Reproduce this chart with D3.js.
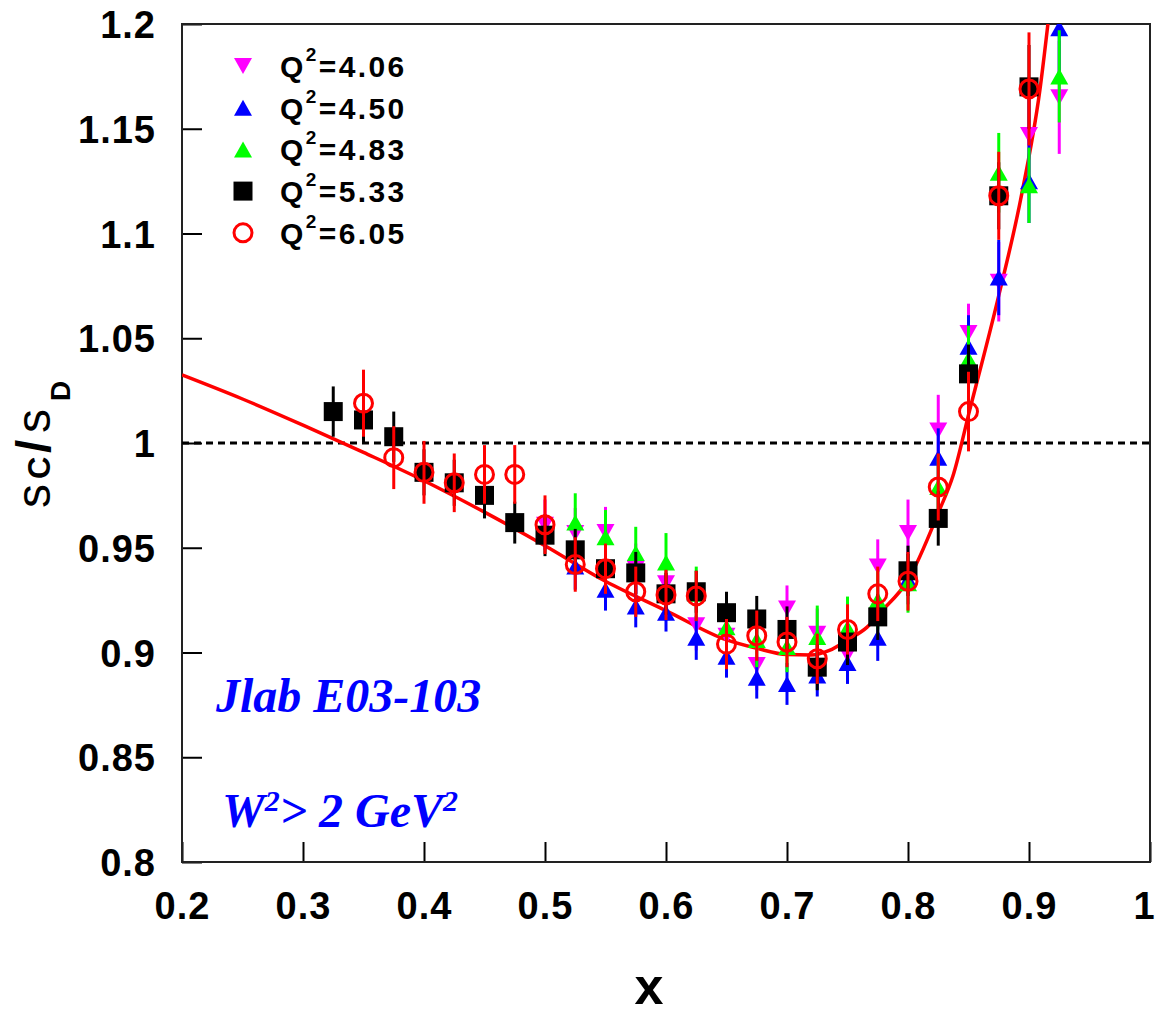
<!DOCTYPE html>
<html><head><meta charset="utf-8">
<script src="https://cdn.jsdelivr.net/npm/d3@7"></script>
<style>body{margin:0;background:#fff}</style>
</head><body>
<svg id="c" width="1157" height="1014"></svg>
<script>
// ---------------- data ----------------
const xTicks = [0.2, 0.3, 0.4, 0.5, 0.6, 0.7, 0.8, 0.9, 1.0];
const xTickLabels = ["0.2", "0.3", "0.4", "0.5", "0.6", "0.7", "0.8", "0.9", "1"];
const yTicks = [0.8, 0.85, 0.9, 0.95, 1.0, 1.05, 1.1, 1.15, 1.2];
const yTickLabels = ["0.8", "0.85", "0.9", "0.95", "1", "1.05", "1.1", "1.15", "1.2"];

const legendQ2 = ["4.06", "4.50", "4.83", "5.33", "6.05"];

// Q2 = 4.06 (magenta, down triangles)
const x406 = [0.5, 0.525, 0.55, 0.575, 0.6, 0.625, 0.65, 0.675, 0.7, 0.725, 0.75, 0.775, 0.8, 0.825, 0.85, 0.875, 0.9, 0.925];
const y406 = [0.961, 0.957, 0.9575, 0.940, 0.933, 0.913, 0.908, 0.894, 0.921, 0.909, 0.899, 0.941, 0.957, 1.006, 1.0525, 1.077, 1.147, 1.165];
const e406 = [0.012, 0.012, 0.012, 0.012, 0.012, 0.012, 0.012, 0.012, 0.011, 0.012, 0.012, 0.013, 0.016, 0.017, 0.014, 0.019, 0.022, 0.027];

// Q2 = 4.50 (blue, up triangles)
const x450 = [0.525, 0.55, 0.575, 0.6, 0.625, 0.65, 0.675, 0.7, 0.725, 0.75, 0.775, 0.8, 0.825, 0.85, 0.875, 0.9, 0.925];
const y450 = [0.941, 0.930, 0.922, 0.919, 0.907, 0.898, 0.888, 0.885, 0.889, 0.895, 0.907, 0.935, 0.993, 1.046, 1.079, 1.125, 1.198];
const e450 = [0.011, 0.010, 0.010, 0.009, 0.0105, 0.010, 0.010, 0.010, 0.010, 0.010, 0.011, 0.012, 0.014, 0.015, 0.018, 0.020, 0.025];

// Q2 = 4.83 (green, up triangles)
const x483 = [0.525, 0.55, 0.575, 0.6, 0.625, 0.65, 0.675, 0.7, 0.725, 0.75, 0.775, 0.8, 0.825, 0.85, 0.875, 0.9, 0.925];
const y483 = [0.962, 0.955, 0.9475, 0.943, 0.928, 0.912, 0.906, 0.9026, 0.9074, 0.9117, 0.925, 0.933, 0.979, 1.040, 1.129, 1.123, 1.175];
const e483 = [0.014, 0.013, 0.0125, 0.014, 0.013, 0.013, 0.013, 0.012, 0.015, 0.015, 0.014, 0.014, 0.015, 0.016, 0.019, 0.018, 0.022];

// Q2 = 5.33 (black squares)
const x533 = [0.325, 0.35, 0.375, 0.4, 0.425, 0.45, 0.475, 0.5, 0.525, 0.55, 0.575, 0.6, 0.625, 0.65, 0.675, 0.7, 0.725, 0.75, 0.775, 0.8, 0.825, 0.85, 0.875, 0.9];
const y533 = [1.015, 1.011, 1.003, 0.986, 0.981, 0.975, 0.962, 0.956, 0.949, 0.940, 0.938, 0.928, 0.929, 0.919, 0.916, 0.911, 0.893, 0.905, 0.917, 0.939, 0.964, 1.033, 1.118, 1.170];
const e533 = [0.012, 0.011, 0.012, 0.011, 0.011, 0.011, 0.010, 0.010, 0.010, 0.010, 0.010, 0.010, 0.010, 0.010, 0.011, 0.011, 0.011, 0.011, 0.011, 0.012, 0.013, 0.014, 0.016, 0.020];

// Q2 = 6.05 (red open circles)
const x605 = [0.35, 0.375, 0.4, 0.425, 0.45, 0.475, 0.5, 0.525, 0.55, 0.575, 0.6, 0.625, 0.65, 0.675, 0.7, 0.725, 0.75, 0.775, 0.8, 0.825, 0.85, 0.875, 0.9];
const y605 = [1.019, 0.993, 0.986, 0.981, 0.985, 0.985, 0.961, 0.942, 0.940, 0.929, 0.9275, 0.927, 0.904, 0.908, 0.905, 0.897, 0.911, 0.928, 0.934, 0.979, 1.015, 1.118, 1.169];
const e605 = [0.016, 0.015, 0.015, 0.014, 0.014, 0.014, 0.014, 0.013, 0.012, 0.012, 0.012, 0.012, 0.012, 0.012, 0.012, 0.012, 0.012, 0.013, 0.014, 0.016, 0.019, 0.021, 0.027];

// model curve
const xFit = [0.2, 0.25, 0.3, 0.35, 0.4, 0.45, 0.5, 0.55, 0.6, 0.65, 0.675, 0.7, 0.72, 0.735, 0.75, 0.766, 0.777, 0.8, 0.826, 0.837, 0.851, 0.874, 0.893, 0.909, 0.918];
const yFit = [1.0325, 1.021, 1.0085, 0.9955, 0.982, 0.967, 0.951, 0.934, 0.920, 0.906, 0.902, 0.899, 0.8988, 0.901, 0.906, 0.912, 0.919, 0.9346, 0.968, 0.984, 1.0157, 1.068, 1.116, 1.1685, 1.212];

// ---------------- drawing ----------------
const svg = d3.select("#c");
const L = 182, R = 1150, T = 24, B = 862;
const x = d3.scaleLinear().domain([0.2, 1.0]).range([L, R]);
const y = d3.scaleLinear().domain([0.8, 1.2]).range([B, T]);

svg.append("defs").append("clipPath").attr("id", "clip")
  .append("rect").attr("x", L).attr("y", T).attr("width", R - L).attr("height", B - T);

// axes
const axL = svg.append("g").attr("transform", `translate(${L},0)`)
  .call(d3.axisLeft(y).tickValues(yTicks).tickFormat((d, i) => yTickLabels[i]).tickSizeInner(-20).tickSizeOuter(0).tickPadding(26));
const axB = svg.append("g").attr("transform", `translate(0,${B})`)
  .call(d3.axisBottom(x).tickValues(xTicks).tickFormat((d, i) => xTickLabels[i]).tickSizeInner(-20).tickSizeOuter(0).tickPadding(30));
[axL, axB].forEach(a => {
  a.select(".domain").remove();
  a.selectAll(".tick line").attr("stroke", "#000").attr("stroke-width", 2);
  a.selectAll(".tick text").attr("fill", "#000")
    .style("font-family", "'Liberation Sans', Arial, sans-serif")
    .style("font-weight", "bold").style("font-size", "38px").style("letter-spacing", "1px");
});
axB.selectAll(".tick text").attr("dy", "0.71em").attr("dx", (d, i) => i === xTicks.length - 1 ? -6 : 0);
axL.selectAll(".tick text").attr("dy", "0.36em");

// frame
svg.append("rect").attr("x", L).attr("y", T).attr("width", R - L).attr("height", B - T)
  .attr("fill", "none").attr("stroke", "#222").attr("stroke-width", 2);

const plot = svg.append("g").attr("clip-path", "url(#clip)");

// dashed line at 1
plot.append("line").attr("x1", x(0.2)).attr("x2", x(1.0)).attr("y1", y(1.0)).attr("y2", y(1.0))
  .attr("stroke", "#000").attr("stroke-width", 3).attr("stroke-dasharray", "7,5");

// fit curve
const fitPts = xFit.map((d, i) => [d, yFit[i]]);
plot.append("path").datum(fitPts)
  .attr("d", d3.line().x(d => x(d[0])).y(d => y(d[1])).curve(d3.curveMonotoneX))
  .attr("fill", "none").attr("stroke", "#ff0000").attr("stroke-width", 3.5);

// marker drawing
function marker(g, type, color) {
  if (type === "tdown") {
    g.append("path").attr("d", "M-9,-8 L9,-8 L0,8 Z").attr("fill", color);
  } else if (type === "tup") {
    g.append("path").attr("d", "M-9,8 L9,8 L0,-8 Z").attr("fill", color);
  } else if (type === "square") {
    g.append("rect").attr("x", -9.5).attr("y", -9.5).attr("width", 19).attr("height", 19).attr("fill", color);
  } else if (type === "circle") {
    g.append("circle").attr("r", 9).attr("fill", "none").attr("stroke", color).attr("stroke-width", 3);
  }
}

const series = [
  {xs: x406, ys: y406, es: e406, color: "#ff00ff", type: "tdown"},
  {xs: x450, ys: y450, es: e450, color: "#0000ff", type: "tup"},
  {xs: x483, ys: y483, es: e483, color: "#00ff00", type: "tup"},
  {xs: x533, ys: y533, es: e533, color: "#000000", type: "square"},
  {xs: x605, ys: y605, es: e605, color: "#ff0000", type: "circle"}
];

series.forEach(s => {
  const g = plot.append("g");
  s.xs.forEach((xv, i) => {
    const yv = s.ys[i], ev = s.es[i];
    g.append("line").attr("x1", x(xv)).attr("x2", x(xv)).attr("y1", y(yv - ev)).attr("y2", y(yv + ev))
      .attr("stroke", s.color).attr("stroke-width", 3);
    const m = g.append("g").attr("transform", `translate(${x(xv)},${y(yv)})`);
    marker(m, s.type, s.color);
  });
});

// legend
const leg = svg.append("g");
series.forEach((s, i) => {
  const cy = 66 + i * 41.7;
  const m = leg.append("g").attr("transform", `translate(243,${cy})`);
  marker(m, s.type, s.color);
  const t = leg.append("text").attr("x", 280).attr("y", cy + 11)
    .style("font-family", "'Liberation Sans', Arial, sans-serif").style("font-weight", "bold")
    .style("font-size", "30px").style("letter-spacing", "2.4px").attr("fill", "#000");
  t.append("tspan").text("Q");
  t.append("tspan").attr("dy", -16).style("font-size", "19px").text("2");
  t.append("tspan").attr("dy", 16).text("=" + legendQ2[i]);
});

// annotations
svg.append("text").attr("x", 216).attr("y", 712).attr("fill", "#0000ff")
  .style("font-family", "'Liberation Serif', 'Times New Roman', serif").style("font-weight", "bold")
  .style("font-style", "italic").style("font-size", "48px").text("Jlab E03-103");
const w = svg.append("text").attr("x", 222).attr("y", 827).attr("fill", "#0000ff")
  .style("font-family", "'Liberation Serif', 'Times New Roman', serif").style("font-weight", "bold")
  .style("font-style", "italic").style("font-size", "48px");
w.append("tspan").text("W");
w.append("tspan").attr("dy", -16).style("font-size", "30px").text("2");
w.append("tspan").attr("dy", 16).text("> 2 GeV");
w.append("tspan").attr("dy", -16).style("font-size", "30px").text("2");

// x title
svg.append("text").attr("x", 649).attr("y", 1004).attr("text-anchor", "middle")
  .style("font-family", "'Liberation Sans', Arial, sans-serif").style("font-weight", "bold")
  .style("font-size", "52px").text("x");

// y title (rotated)
const yt = svg.append("g").attr("transform", "translate(50,507) rotate(-90)")
  .style("font-family", "'Liberation Sans', Arial, sans-serif").attr("fill", "#000");
yt.append("text").attr("x", -1).attr("y", 0).style("font-size", "48px").text("s");
yt.append("text").attr("x", 28).attr("y", 0).style("font-size", "31px").style("font-weight", "bold").text("C");
yt.append("text").attr("x", 54).attr("y", 0).style("font-size", "48px").style("font-weight", "bold").text("/");
yt.append("text").attr("x", 74).attr("y", 0).style("font-size", "48px").text("s");
yt.append("text").attr("x", 106).attr("y", 20).style("font-size", "28px").style("font-weight", "bold").text("D");
</script>
</body></html>
